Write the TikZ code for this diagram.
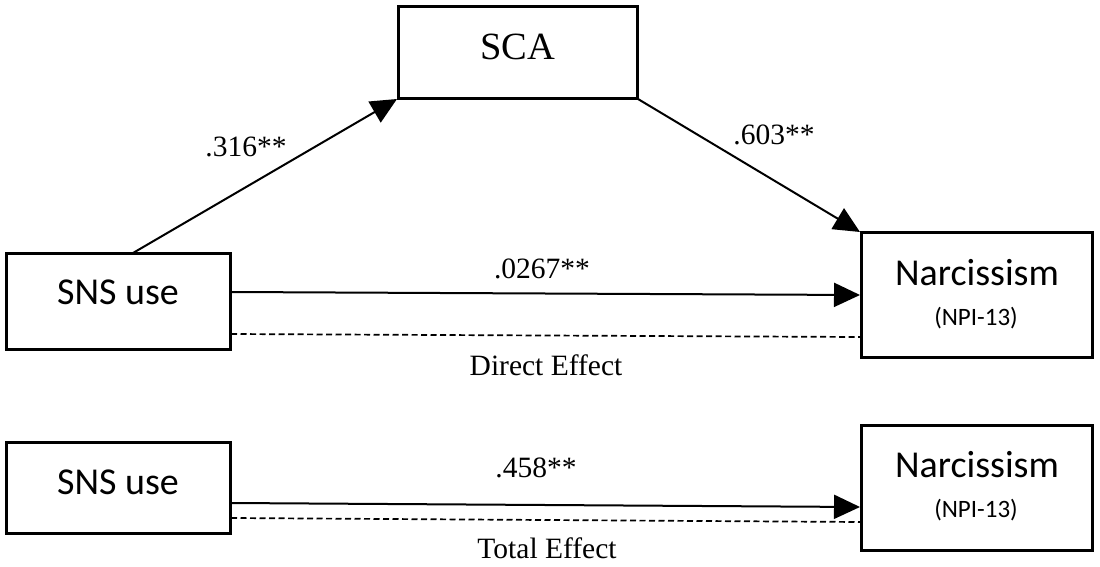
\documentclass[tikz,border=0pt]{standalone}
\usepackage{fontspec}
\setmainfont{Liberation Serif}
\newfontfamily\calib{Carlito}
\usetikzlibrary{arrows.meta}
\begin{document}
\begin{tikzpicture}[x=1pt,y=-1pt,
  box/.style={draw,line width=3pt,rectangle,inner sep=0pt},
  conn/.style={line width=2pt,-{Triangle[length=26pt,width=24pt]}},
  dashline/.style={line width=1.7pt,dash pattern=on 6pt off 3.5pt},
  coef/.style={anchor=base,font=\fontsize{29.5}{33}\selectfont},
  boxtext/.style={anchor=base,font=\calib\fontsize{38}{42}\selectfont},
  subtext/.style={anchor=base,font=\calib\fontsize{25}{28}\selectfont}]
\useasboundingbox (0,0) rectangle (1100,567);
% boxes
\node[box,minimum width=239pt,minimum height=92pt] (sca) at (517.5,53) {};
\node[box,minimum width=224pt,minimum height=96pt] (sns1) at (118,301) {};
\node[box,minimum width=231pt,minimum height=125pt] (nar1) at (976.5,294.5) {};
\node[box,minimum width=224pt,minimum height=91pt] (sns2) at (118,487.5) {};
\node[box,minimum width=231pt,minimum height=125pt] (nar2) at (976.5,487.5) {};
% box texts
\node[anchor=base,font=\fontsize{38.5}{42}\selectfont] (scat) at (518,60) {SCA};
\node[boxtext] (sns1t) at (118,304) {SNS use};
\node[boxtext] (nar1t) at (977,285) {Narcissism};
\node[subtext] (nar1s) at (976,325) {(NPI-13)};
\node[boxtext] (sns2t) at (118,494) {SNS use};
\node[boxtext] (nar2t) at (977,477) {Narcissism};
\node[subtext] (nar2s) at (976,517) {(NPI-13)};
% connection points
\coordinate (a1) at (133,253);
\coordinate (a2) at (397,99);
\coordinate (b1) at (638,99);
\coordinate (b2) at (860,232);
\coordinate (c1) at (231,292);
\coordinate (c2) at (860,295);
\coordinate (d1) at (231,334);
\coordinate (d2) at (860,337);
\coordinate (e1) at (231,503);
\coordinate (e2) at (860,507);
\coordinate (f1) at (231,518);
\coordinate (f2) at (860,522);
% connectors
\draw[conn] (a1) -- (a2);
\draw[conn] (b1) -- (b2);
\draw[conn] (c1) -- (c2);
\draw[dashline] (d1) -- (d2);
\draw[conn] (e1) -- (e2);
\draw[dashline] (f1) -- (f2);
% labels
\node[coef] (l1) at (246,157) {.316**};
\node[coef] (l2) at (774,145) {.603**};
\node[coef] (l3) at (542,278) {.0267**};
\node[coef] (l4) at (546,375) {Direct Effect};
\node[coef] (l5) at (536,477) {.458**};
\node[coef] (l6) at (547,558) {Total Effect};
\end{tikzpicture}
\end{document}
